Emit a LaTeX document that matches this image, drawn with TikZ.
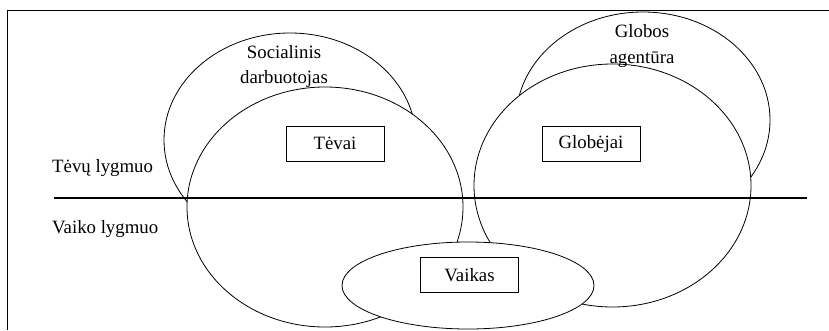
\documentclass[tikz,border=0pt]{standalone}
\usepackage{fontspec}
\setmainfont{Liberation Serif}
\usetikzlibrary{positioning,shapes.geometric}

\begin{document}
\begin{tikzpicture}[x=1pt,y=-1pt,
  every node/.style={font=\fontsize{18.8}{25}\selectfont},
  oval/.style={ellipse,draw,fill=white,line width=0.8pt,inner sep=0pt,outer sep=0pt},
  rolebox/.style={draw,line width=0.6pt,minimum width=98pt,minimum height=35pt,inner sep=0pt},
  lbl/.style={inner sep=0pt}]
\useasboundingbox (0,0) rectangle (829,330);
\coordinate (frTR) at (829,10);
\coordinate (frTL) at (7,10);
\coordinate (frBL) at (7,330);
\draw [line width=0.8pt] (frTR) -- (frTL) -- (frBL);
\node [oval,minimum width=252pt,minimum height=214pt] (socE) at (290,140) {};
\node [oval,minimum width=276pt,minimum height=240pt] (tevE) at (325,207) {};
\node [oval,minimum width=254pt,minimum height=216pt] (agE) at (643,120) {};
\node [oval,minimum width=277pt,minimum height=243pt] (globE) at (612.5,185.5) {};
\coordinate (lvlL) at (54,198);
\coordinate (lvlR) at (807,198);
\draw [line width=1.4pt] (lvlL) -- (lvlR);
\node [oval,minimum width=252pt,minimum height=87pt] (vaikE) at (468,285.5) {};
\node [rolebox] (tevai) at (335,143.5) {Tėvai};
\node [rolebox] (globejai) at (591,144) {Globėjai};
\node [rolebox] (vaikas) at (469.5,275) {Vaikas};
\node [lbl,anchor=base] (soc) at (284,58) {Socialinis};
\node [lbl,anchor=base] (darb) at ([yshift=-25pt]soc.base) {darbuotojas};
\node [lbl,anchor=base] (glob) at (642,37) {Globos};
\node [lbl,anchor=base] (agent) at ([yshift=-26pt]glob.base) {agentūra};
\node [lbl,anchor=base west] (tevlyg) at (52,172) {Tėvų lygmuo};
\node [lbl,anchor=base west] (vaiklyg) at (52,233) {Vaiko lygmuo};
\end{tikzpicture}
\end{document}
